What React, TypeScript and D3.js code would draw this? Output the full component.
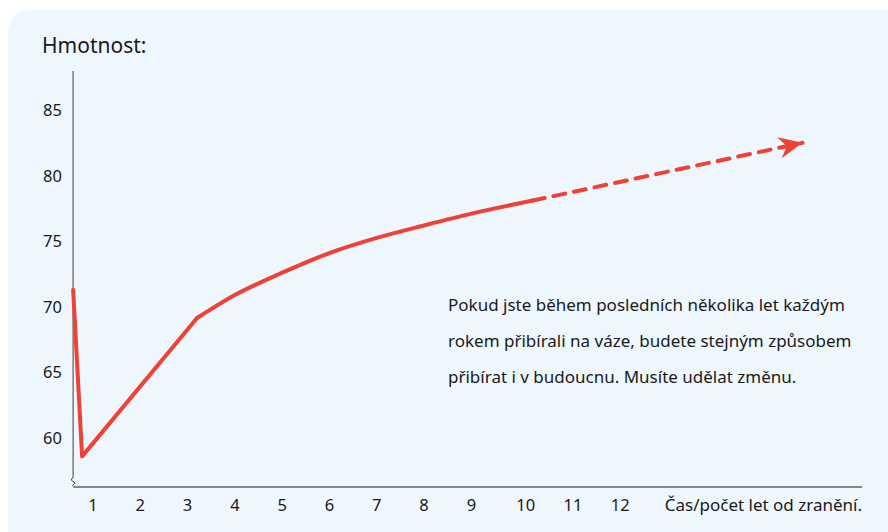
import React from 'react';
import * as d3 from 'd3';

// Observed weight trend (years since injury -> kg)
const solidYears = [0.58, 0.77, 3.2, 4, 5, 6, 7, 8, 9, 10.3];
const solidWeights = [71.3, 58.6, 69.15, 70.9, 72.6, 74.1, 75.25, 76.2, 77.1, 78.1];

// Projected continuation (dashed)
const projYears = [10.3, 16.0];
const projWeights = [78.1, 82.5];

const xTicks = [1, 2, 3, 4, 5, 6, 7, 8, 9, 10, 11, 12];
const yTicks = [60, 65, 70, 75, 80, 85];

const titleText = 'Hmotnost:';
const xAxisLabel = 'Čas/počet let od zranění.';
const noteLines = [
  'Pokud jste během posledních několika let každým',
  'rokem přibírali na váze, budete stejným způsobem',
  'přibírat i v budoucnu. Musíte udělat změnu.',
];

const W = 888;
const H = 532;
const FONT = '"Noto Sans", "DejaVu Sans", sans-serif';
const RED = '#ef4136';

const App: React.FC = () => {
  const xScale = d3.scaleLinear().domain([1, 12]).range([93, 613.3]);
  const yScale = d3.scaleLinear().domain([60, 85]).range([438, 110]);

  const x0 = xScale(0.58);
  const axisY = 487;

  const pts = solidYears.map((yr, i) => [yr, solidWeights[i]] as [number, number]);
  const linePart = d3.line<[number, number]>()
    .x(d => xScale(d[0]))
    .y(d => yScale(d[1]));
  const curvePart = d3.line<[number, number]>()
    .x(d => xScale(d[0]))
    .y(d => yScale(d[1]))
    .curve(d3.curveMonotoneX);

  const projPts = projYears.map((yr, i) => [yr, projWeights[i]] as [number, number]);

  return (
    <svg width={W} height={H} style={{ position: 'absolute', left: 0, top: 0 }}>
      <defs>
        <marker id="arrow" markerUnits="userSpaceOnUse" markerWidth="30" markerHeight="30"
          viewBox="-24 -12 28 24" refX="0" refY="0" orient="auto">
          <path d="M0,0 L-22,-10 L-15,0 L-22,10 Z" fill={RED} />
        </marker>
      </defs>
      <rect x={0} y={0} width={W} height={H} fill="#ffffff" />
      <rect x={8} y={10} width={W + 30} height={H + 30} rx={22} fill="#eef6fe" />

      <text x={42} y={53} fontFamily={FONT} fontSize={21} fill="#1a1a1a">{titleText}</text>

      {/* y axis */}
      <line x1={x0} x2={x0} y1={71} y2={477} stroke="#7a7a7a" strokeWidth={1.5} />
      <path d={`M${x0},477 l-2,3 l4,3 l-3,3`} fill="none" stroke="#444" strokeWidth={1} />
      {yTicks.map(t => (
        <text key={t} x={62} y={yScale(t)} dy="0.36em" textAnchor="end"
          fontFamily={FONT} fontSize={16.5} fill="#1a1a1a">{t}</text>
      ))}

      {/* x axis */}
      <line x1={x0} x2={862} y1={axisY} y2={axisY} stroke="#1a1a1a" strokeWidth={1.2} />
      {xTicks.map(t => (
        <text key={t} x={xScale(t) + (t >= 10 ? 7 : 0)} y={505} dy="0.36em" textAnchor="middle"
          fontFamily={FONT} fontSize={16.5} fill="#1a1a1a">{t}</text>
      ))}
      <text x={862} y={505} dy="0.36em" textAnchor="end" fontFamily={FONT} fontSize={17}
        fill="#1a1a1a">{xAxisLabel}</text>

      {/* observed trend */}
      <path d={linePart(pts.slice(0, 3)) || ''} fill="none" stroke={RED} strokeWidth={4}
        strokeLinejoin="round" strokeLinecap="round" />
      <path d={curvePart(pts.slice(2)) || ''} fill="none" stroke={RED} strokeWidth={4}
        strokeLinejoin="round" strokeLinecap="round" />

      {/* projection */}
      <path d={linePart(projPts) || ''} fill="none" stroke={RED} strokeWidth={4}
        strokeDasharray="12 9" strokeLinecap="round" markerEnd="url(#arrow)" />

      {/* note */}
      {noteLines.map((l, i) => (
        <text key={i} x={448} y={311 + i * 36} fontFamily={FONT} fontSize={17} fill="#1a1a1a">{l}</text>
      ))}
    </svg>
  );
};

export default App;
